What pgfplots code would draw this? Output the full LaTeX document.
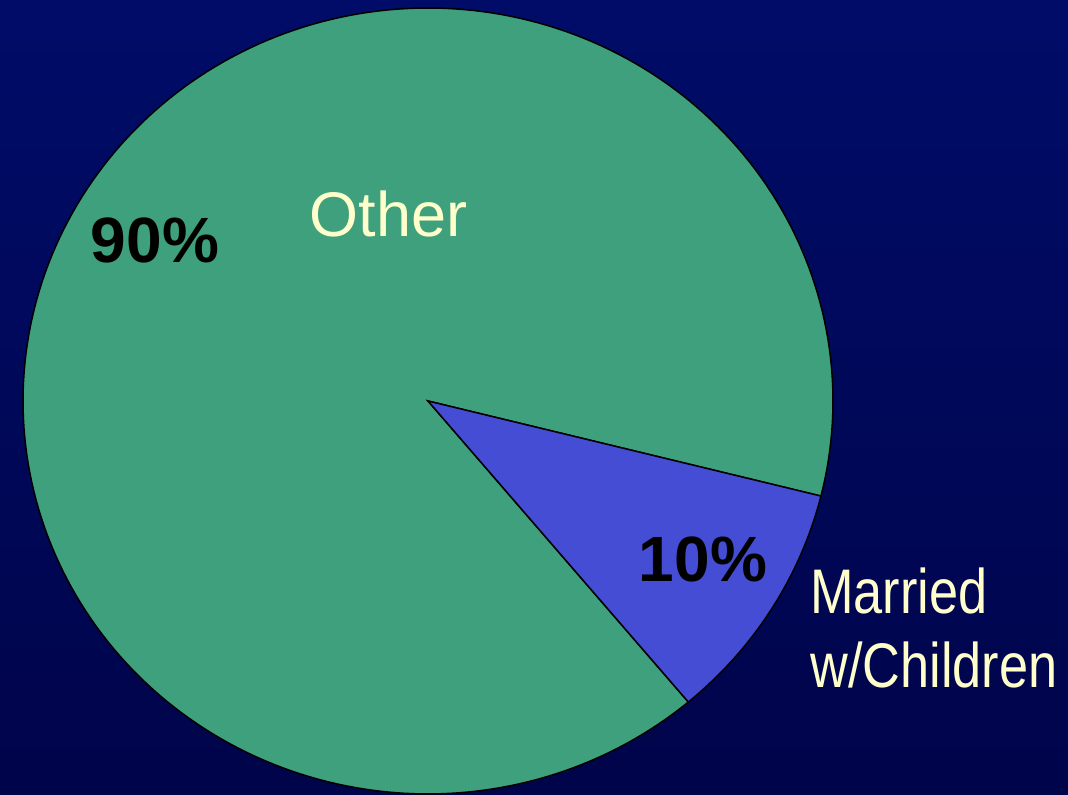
\documentclass[border=0pt]{standalone}
\usepackage{pgfplots}
\pgfplotsset{compat=1.18}
\usepackage{fontspec}
\setmainfont{Liberation Sans}
\definecolor{bgtop}{HTML}{000C68}
\definecolor{bgbot}{HTML}{00044A}
\definecolor{piegreen}{HTML}{3FA07D}
\definecolor{pieblue}{HTML}{444DD4}
\definecolor{cream}{HTML}{FFFFCC}
% Shares: Married w/Children 10% (36 deg), Other 90% (324 deg)
% wedge boundaries (degrees): blue -50 .. -14, green -14 .. 310
\begin{document}
\begin{tikzpicture}
\begin{axis}[
  width=534pt, height=397.5pt, scale only axis,
  xmin=0, xmax=1068, ymin=0, ymax=795,
  hide axis, clip=true,
]
\fill[top color=bgtop, bottom color=bgbot] (rel axis cs:0,0) rectangle (rel axis cs:1,1);
\addplot[fill=piegreen, draw=black, line width=0.75pt, domain=-14:310, samples=240, variable=\t]
  ({428+405*cos(t)}, {394+393*sin(t)}) -- (axis cs:428,394) -- cycle;
\addplot[fill=pieblue, draw=black, line width=0.75pt, domain=-50:-14, samples=40, variable=\t]
  ({428+405*cos(t)}, {394+393*sin(t)}) -- (axis cs:428,394) -- cycle;
\node[anchor=base, text=cream, font=\fontsize{31.5}{36}\selectfont, inner sep=0pt] at (axis cs:388.5,558) {Other};
\node[anchor=base, text=black, font=\fontsize{32}{36}\selectfont\bfseries, inner sep=0pt] at (axis cs:155,532) {90\%};
\node[anchor=base, text=black, font=\fontsize{32}{36}\selectfont\bfseries, inner sep=0pt] at (axis cs:703,213.3) {10\%};
\node[anchor=base west, text=cream, font=\fontsize{31.5}{36}\selectfont, inner sep=0pt, xscale=0.83] at (axis cs:810,181) {Married};
\node[anchor=base west, text=cream, font=\fontsize{31.5}{36}\selectfont, inner sep=0pt, xscale=0.83] at (axis cs:810,107) {w/Children};
\end{axis}
\end{tikzpicture}
\end{document}
